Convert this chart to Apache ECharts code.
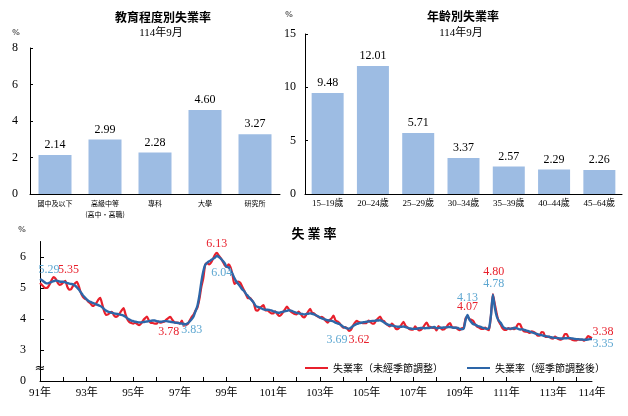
<!DOCTYPE html>
<html lang="zh-Hant">
<head>
<meta charset="UTF-8">
<title>失業率</title>
<script src="https://cdn.jsdelivr.net/npm/echarts@6/dist/echarts.min.js"></script>
<style>
  html, body { margin: 0; padding: 0; background: #fff; }
  #main { width: 628px; height: 416px; }
</style>
</head>
<body>
<div id="main"></div>
<script type="text/javascript">
// 教育程度別 (114年9月)
var eduCats = ['國中及以下', '高級中等\n(高中・高職)', '專科', '大學', '研究所'];
var eduRates = [2.14, 2.99, 2.28, 4.60, 3.27];

// 年齡別 (114年9月)
var ageCats = ['15–19歲', '20–24歲', '25–29歲', '30–34歲', '35–39歲', '40–44歲', '45–64歲'];
var ageRates = [9.48, 12.01, 5.71, 3.37, 2.57, 2.29, 2.26];

// 月別失業率 91年1月 ~ 114年9月, one row per year
var firstYear = 91;
var xLabelYears = [91, 93, 95, 97, 99, 101, 103, 105, 107, 109, 111, 113];
var yTickValues = [2, 3, 4, 5, 6];   // 2 is drawn as "0" (broken axis)

// 未經季節調整
var rawRate = [
  [5.16, 5.10, 5.03, 5.00, 5.02, 5.12, 5.26, 5.35, 5.30, 5.18, 5.10, 5.12], // 91
  [5.18, 5.23, 5.05, 4.95, 4.96, 5.07, 5.15, 5.20, 5.05, 4.85, 4.72, 4.66], // 92
  [4.62, 4.55, 4.50, 4.42, 4.45, 4.52, 4.62, 4.68, 4.48, 4.25, 4.13, 4.15], // 93
  [4.20, 4.23, 4.12, 4.07, 4.10, 4.18, 4.28, 4.35, 4.15, 3.98, 3.90, 3.87], // 94
  [3.85, 3.88, 3.84, 3.80, 3.85, 3.95, 4.02, 4.08, 3.95, 3.88, 3.87, 3.85], // 95
  [3.85, 3.92, 3.88, 3.90, 3.92, 3.98, 4.03, 4.07, 3.98, 3.90, 3.88, 3.88], // 96
  [3.85, 3.95, 3.78, 3.81, 3.84, 3.95, 4.06, 4.14, 4.27, 4.37, 4.64, 5.03], // 97
  [5.31, 5.75, 5.81, 5.76, 5.82, 5.94, 6.07, 6.13, 6.04, 5.96, 5.86, 5.74], // 98
  [5.68, 5.76, 5.67, 5.44, 5.13, 5.17, 5.21, 5.17, 5.05, 4.92, 4.79, 4.67], // 99
  [4.68, 4.61, 4.51, 4.29, 4.27, 4.35, 4.40, 4.45, 4.28, 4.28, 4.23, 4.18], // 100
  [4.18, 4.25, 4.17, 4.10, 4.13, 4.21, 4.31, 4.40, 4.32, 4.24, 4.20, 4.16], // 101
  [4.15, 4.24, 4.17, 4.08, 4.05, 4.14, 4.24, 4.33, 4.20, 4.18, 4.12, 4.08], // 102
  [4.04, 4.07, 4.02, 3.94, 3.88, 3.96, 4.02, 4.11, 3.96, 3.92, 3.87, 3.79], // 103
  [3.72, 3.74, 3.70, 3.62, 3.65, 3.78, 3.88, 3.94, 3.90, 3.88, 3.87, 3.87], // 104
  [3.87, 3.95, 3.90, 3.85, 3.86, 3.96, 4.02, 4.08, 3.96, 3.93, 3.85, 3.80], // 105
  [3.76, 3.85, 3.79, 3.69, 3.67, 3.73, 3.82, 3.91, 3.79, 3.73, 3.68, 3.66], // 106
  [3.66, 3.76, 3.69, 3.63, 3.65, 3.72, 3.82, 3.88, 3.76, 3.74, 3.71, 3.71], // 107
  [3.63, 3.77, 3.71, 3.66, 3.67, 3.73, 3.82, 3.87, 3.73, 3.72, 3.72, 3.67], // 108
  [3.64, 3.70, 3.72, 4.03, 4.07, 4.00, 3.97, 3.93, 3.81, 3.75, 3.72, 3.68], // 109
  [3.68, 3.72, 3.67, 3.64, 4.11, 4.80, 4.48, 4.16, 3.92, 3.82, 3.70, 3.65], // 110
  [3.65, 3.71, 3.67, 3.71, 3.67, 3.73, 3.84, 3.83, 3.69, 3.60, 3.59, 3.58], // 111
  [3.55, 3.60, 3.58, 3.54, 3.46, 3.46, 3.58, 3.57, 3.42, 3.42, 3.43, 3.38], // 112
  [3.37, 3.43, 3.38, 3.35, 3.33, 3.38, 3.51, 3.51, 3.38, 3.36, 3.32, 3.31], // 113
  [3.31, 3.34, 3.33, 3.33, 3.30, 3.36, 3.45, 3.42, 3.38]                    // 114
];

// 經季節調整後
var saRate = [
  [5.29, 5.25, 5.20, 5.16, 5.15, 5.17, 5.20, 5.22, 5.24, 5.23, 5.21, 5.20], // 91
  [5.20, 5.18, 5.16, 5.14, 5.13, 5.12, 5.08, 5.02, 4.95, 4.86, 4.77, 4.70], // 92
  [4.63, 4.58, 4.55, 4.52, 4.50, 4.47, 4.45, 4.42, 4.38, 4.32, 4.27, 4.24], // 93
  [4.22, 4.20, 4.18, 4.17, 4.16, 4.15, 4.13, 4.11, 4.07, 4.02, 3.98, 3.95], // 94
  [3.93, 3.91, 3.90, 3.89, 3.89, 3.90, 3.91, 3.92, 3.93, 3.94, 3.95, 3.95], // 95
  [3.93, 3.92, 3.91, 3.92, 3.93, 3.93, 3.92, 3.91, 3.90, 3.89, 3.88, 3.87], // 96
  [3.86, 3.85, 3.84, 3.83, 3.86, 3.92, 3.99, 4.08, 4.25, 4.43, 4.76, 5.19], // 97
  [5.53, 5.75, 5.81, 5.86, 5.90, 5.94, 5.98, 6.04, 6.00, 5.95, 5.88, 5.80], // 98
  [5.68, 5.67, 5.58, 5.46, 5.32, 5.21, 5.13, 5.05, 4.96, 4.90, 4.81, 4.74], // 99
  [4.66, 4.60, 4.52, 4.42, 4.39, 4.37, 4.34, 4.31, 4.30, 4.30, 4.29, 4.28], // 100
  [4.25, 4.23, 4.21, 4.20, 4.22, 4.24, 4.25, 4.26, 4.28, 4.27, 4.25, 4.22], // 101
  [4.20, 4.18, 4.17, 4.16, 4.15, 4.16, 4.17, 4.18, 4.17, 4.15, 4.12, 4.09], // 102
  [4.05, 4.02, 4.00, 3.98, 3.96, 3.95, 3.94, 3.92, 3.88, 3.86, 3.84, 3.80], // 103
  [3.75, 3.72, 3.70, 3.69, 3.72, 3.77, 3.81, 3.84, 3.86, 3.88, 3.89, 3.90], // 104
  [3.91, 3.92, 3.93, 3.94, 3.94, 3.95, 3.95, 3.96, 3.93, 3.89, 3.85, 3.82], // 105
  [3.80, 3.79, 3.78, 3.76, 3.75, 3.75, 3.75, 3.76, 3.74, 3.72, 3.70, 3.69], // 106
  [3.68, 3.68, 3.69, 3.70, 3.71, 3.71, 3.70, 3.71, 3.71, 3.72, 3.73, 3.74], // 107
  [3.70, 3.71, 3.72, 3.72, 3.73, 3.73, 3.74, 3.74, 3.73, 3.72, 3.72, 3.71], // 108
  [3.68, 3.67, 3.69, 3.98, 4.13, 3.97, 3.89, 3.83, 3.82, 3.78, 3.76, 3.74], // 109
  [3.71, 3.70, 3.68, 3.70, 4.11, 4.78, 4.37, 4.08, 3.95, 3.88, 3.77, 3.71], // 110
  [3.69, 3.69, 3.69, 3.69, 3.72, 3.71, 3.68, 3.66, 3.67, 3.65, 3.63, 3.62], // 111
  [3.59, 3.57, 3.55, 3.53, 3.51, 3.49, 3.48, 3.46, 3.45, 3.44, 3.42, 3.41], // 112
  [3.40, 3.39, 3.39, 3.38, 3.37, 3.37, 3.38, 3.38, 3.39, 3.38, 3.37, 3.36], // 113
  [3.35, 3.35, 3.34, 3.34, 3.33, 3.33, 3.34, 3.35, 3.35]                    // 114
];

var RED = '#e8202c';
var BLUE = '#2d66a8';
var BLUE_TXT = '#5ea7d1';
var BAR = '#9dbce3';
var SERIF = "'Liberation Serif', 'Noto Sans CJK TC', serif";
var CJK = "'Noto Sans CJK TC', sans-serif";

// month categories
var months = [];
rawRate.forEach(function (row, yi) {
    row.forEach(function (v, mi) {
        months.push((firstYear + yi) + '年' + (mi + 1) + '月');
    });
});
var rawFlat = [].concat.apply([], rawRate);
var saFlat = [].concat.apply([], saRate);

var labelIdx = {};
xLabelYears.forEach(function (y) { labelIdx[(y - firstYear) * 12] = true; });
labelIdx[months.length - 1] = true;

// annotated points: category + label offset
function marks(arr, specs, color) {
    return specs.map(function (s) {
        var v = arr[months.indexOf(s[0])];
        return {
            coord: [s[0], v],
            value: v,
            label: { offset: s[1], color: color }
        };
    });
}
var redMarks = marks(rawFlat, [
    ['91年8月', [15, -7]],
    ['97年3月', [-15, 6]],
    ['98年8月', [0, -9]],
    ['104年4月', [10, 9]],
    ['109年5月', [0, -10]],
    ['110年6月', [1, -22]],
    ['114年9月', [11, -6]]
], RED);
var blueMarks = marks(saFlat, [
    ['91年1月', [9, -9]],
    ['97年4月', [6, 6]],
    ['98年8月', [5, 17]],
    ['104年4月', [-12, 11]],
    ['109年5月', [0, -17]],
    ['110年6月', [1, -11]],
    ['114年9月', [11, 5]]
], BLUE_TXT);

function markPoint(data) {
    return {
        symbol: 'circle',
        symbolSize: 1,
        itemStyle: { color: 'rgba(0,0,0,0)' },
        label: {
            show: true, position: 'inside', fontSize: 12, fontFamily: SERIF,
            formatter: function (p) { return p.value.toFixed(2); }
        },
        data: data
    };
}

var axisBlack = { lineStyle: { color: '#000', width: 1 } };

var myChart = echarts.init(document.getElementById('main'));
var option = {
    animation: false,
    backgroundColor: '#fff',
    grid: [
        { left: 30, top: 48, width: 250, height: 146 },
        { left: 305, top: 34, width: 317, height: 160 },
        { left: 40, top: 241.5, width: 552, height: 139.5 }
    ],
    xAxis: [
        {
            gridIndex: 0, type: 'category', data: eduCats,
            axisLine: axisBlack,
            axisTick: { length: 3, lineStyle: { color: '#000' } },
            axisLabel: { interval: 0, fontSize: 7, lineHeight: 11, margin: 4, color: '#000', fontFamily: CJK }
        },
        {
            gridIndex: 1, type: 'category', data: ageCats,
            axisLine: axisBlack,
            axisTick: { length: 3, lineStyle: { color: '#000' } },
            axisLabel: { interval: 0, fontSize: 9, margin: 5, color: '#000', fontFamily: SERIF }
        },
        {
            gridIndex: 2, type: 'category', data: months, boundaryGap: false,
            axisLine: axisBlack,
            axisTick: {
                inside: true, length: 4, lineStyle: { color: '#000' },
                interval: function (i) { return i % 12 === 0; }
            },
            axisLabel: {
                interval: function (i) { return !!labelIdx[i]; },
                formatter: function (v) { return v.split('年')[0] + '年'; },
                fontSize: 11, margin: 7, color: '#000', fontFamily: SERIF
            }
        }
    ],
    yAxis: [
        {
            gridIndex: 0, type: 'value', min: 0, max: 8, interval: 2,
            axisLine: { show: true, lineStyle: { color: '#000' } },
            axisTick: { show: true, inside: true, length: 3, lineStyle: { color: '#000' } },
            splitLine: { show: false },
            axisLabel: { fontSize: 12, margin: 12, color: '#000', fontFamily: SERIF }
        },
        {
            gridIndex: 1, type: 'value', min: 0, max: 15, interval: 5,
            axisLine: { show: true, lineStyle: { color: '#000' } },
            axisTick: { show: true, inside: true, length: 3, lineStyle: { color: '#000' } },
            splitLine: { show: false },
            axisLabel: { fontSize: 12, margin: 9, color: '#000', fontFamily: SERIF }
        },
        {
            gridIndex: 2, type: 'value', min: 2, max: 6.5, interval: 1,
            axisLine: { show: true, lineStyle: { color: '#000' } },
            axisTick: { show: true, inside: true, length: 4, lineStyle: { color: '#000' }, customValues: yTickValues },
            splitLine: { show: false },
            axisLabel: {
                customValues: yTickValues,
                formatter: function (v) { return v === 2 ? '0' : String(v); },
                fontSize: 12, margin: 14, color: '#000', fontFamily: SERIF
            }
        }
    ],
    legend: {
        left: 300, top: 358, itemGap: 24, itemWidth: 23, itemHeight: 2,
        icon: 'rect',
        textStyle: { fontSize: 10, fontFamily: CJK, color: '#000' },
        data: ['失業率（未經季節調整）', '失業率（經季節調整後）']
    },
    graphic: [
        { type: 'text', x: 163, y: 17, style: { text: '教育程度別失業率', font: "bold 12px 'Noto Sans CJK TC'", textAlign: 'center', textVerticalAlign: 'middle', fill: '#000' } },
        { type: 'text', x: 161, y: 33, style: { text: '114年9月', font: "11px 'Liberation Serif', 'Noto Sans CJK TC'", textAlign: 'center', textVerticalAlign: 'middle', fill: '#000' } },
        { type: 'text', x: 16, y: 33, style: { text: '%', font: "9px 'Liberation Serif'", textAlign: 'center', textVerticalAlign: 'middle', fill: '#000' } },
        { type: 'text', x: 463, y: 16, style: { text: '年齡別失業率', font: "bold 12px 'Noto Sans CJK TC'", textAlign: 'center', textVerticalAlign: 'middle', fill: '#000' } },
        { type: 'text', x: 461, y: 33, style: { text: '114年9月', font: "11px 'Liberation Serif', 'Noto Sans CJK TC'", textAlign: 'center', textVerticalAlign: 'middle', fill: '#000' } },
        { type: 'text', x: 289, y: 15, style: { text: '%', font: "9px 'Liberation Serif'", textAlign: 'center', textVerticalAlign: 'middle', fill: '#000' } },
        { type: 'text', x: 314, y: 233, style: { text: '失 業 率', font: "bold 13px 'Noto Sans CJK TC'", textAlign: 'center', textVerticalAlign: 'middle', fill: '#000' } },
        { type: 'text', x: 22, y: 230, style: { text: '%', font: "9px 'Liberation Serif'", textAlign: 'center', textVerticalAlign: 'middle', fill: '#000' } },
        { type: 'text', x: 40, y: 369, z: 100, style: { text: '≈', font: "13px 'DejaVu Sans'", textAlign: 'center', textVerticalAlign: 'middle', fill: '#000' } }
    ],
    series: [
        {
            name: '教育程度別', type: 'bar', xAxisIndex: 0, yAxisIndex: 0,
            data: eduRates, barWidth: 33,
            itemStyle: { color: BAR },
            label: {
                show: true, position: 'top', distance: 4, fontSize: 12, fontFamily: SERIF, color: '#000',
                formatter: function (p) { return p.value.toFixed(2); }
            }
        },
        {
            name: '年齡別', type: 'bar', xAxisIndex: 1, yAxisIndex: 1,
            data: ageRates, barWidth: 32,
            itemStyle: { color: BAR },
            label: {
                show: true, position: 'top', distance: 4, fontSize: 12, fontFamily: SERIF, color: '#000',
                formatter: function (p) { return p.value.toFixed(2); }
            }
        },
        {
            name: '失業率（未經季節調整）', type: 'line', xAxisIndex: 2, yAxisIndex: 2,
            data: rawFlat, symbol: 'none', smooth: 0.2,
            itemStyle: { color: RED },
            lineStyle: { color: RED, width: 2.2 },
            z: 2,
            markPoint: markPoint(redMarks)
        },
        {
            name: '失業率（經季節調整後）', type: 'line', xAxisIndex: 2, yAxisIndex: 2,
            data: saFlat, symbol: 'none', smooth: 0.2,
            itemStyle: { color: BLUE },
            lineStyle: { color: BLUE, width: 2.4 },
            z: 3,
            markPoint: markPoint(blueMarks)
        }
    ]
};
myChart.setOption(option);
</script>
</body>
</html>
